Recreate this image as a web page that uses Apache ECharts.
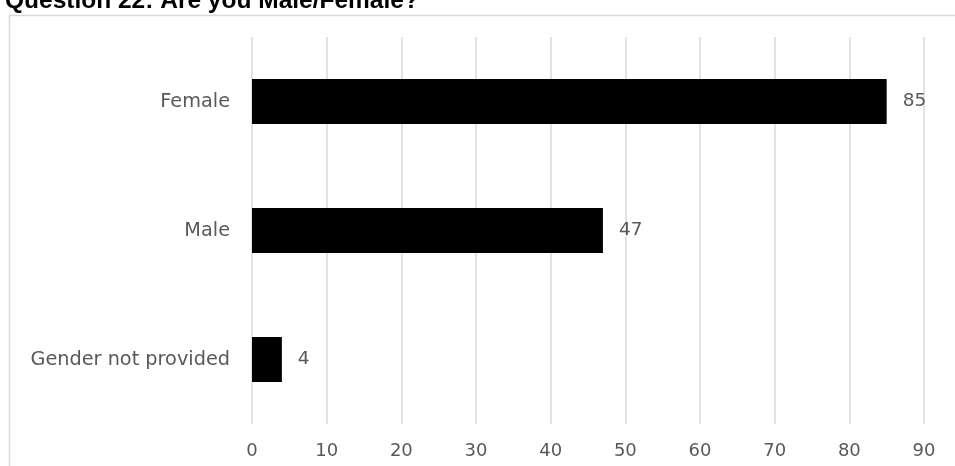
<!DOCTYPE html>
<html>
<head>
<meta charset="utf-8">
<style>
  html, body { margin: 0; padding: 0; background: #fff; }
  #chart { width: 955px; height: 466px; }
</style>
<script src="https://cdn.jsdelivr.net/npm/echarts@6/dist/echarts.min.js"></script>
</head>
<body>
<div id="chart"></div>
<script>
// Survey responses by gender
const titleText = 'Question 22: Are you Male/Female?';
const categories = ['Female', 'Male', 'Gender not provided'];
const counts = [85, 47, 4];
const axisMin = 0;
const axisMax = 90;
const axisStep = 10;

const chart = echarts.init(document.getElementById('chart'), null, { renderer: 'canvas' });

const labelFont = '"DejaVu Sans", Verdana, sans-serif';
const labelColor = '#595959';

chart.setOption({
  animation: false,
  backgroundColor: '#ffffff',
  title: {
    text: titleText,
    left: 5,
    top: -11,
    padding: 0,
    textStyle: {
      fontFamily: '"Liberation Sans", Arial, sans-serif',
      fontWeight: 'bold',
      fontSize: 24.5,
      color: '#000000'
    }
  },
  graphic: [{
    type: 'rect',
    silent: true,
    z: -1,
    shape: { x: 9.5, y: 15.5, width: 1000, height: 1000 },
    style: { fill: 'none', stroke: '#d9d9d9', lineWidth: 1.5 }
  }],
  grid: { left: 252, right: 31, top: 37, bottom: 42, containLabel: false },
  xAxis: {
    type: 'value',
    min: axisMin,
    max: axisMax,
    interval: axisStep,
    axisLine: { show: false },
    axisTick: { show: false },
    axisLabel: {
      margin: 18,
      fontFamily: labelFont,
      fontSize: 18,
      color: labelColor
    },
    splitLine: { show: true, lineStyle: { color: '#d9d9d9', width: 1.5 } }
  },
  yAxis: {
    type: 'category',
    data: categories,
    inverse: true,
    axisLine: { show: false },
    axisTick: { show: false },
    axisLabel: {
      margin: 22,
      fontFamily: labelFont,
      fontSize: 19.3,
      color: labelColor
    }
  },
  series: [{
    type: 'bar',
    data: counts,
    barWidth: 45,
    itemStyle: { color: '#000000' },
    label: {
      show: true,
      position: 'right',
      distance: 16,
      fontFamily: labelFont,
      fontSize: 18.5,
      color: labelColor
    }
  }]
});
</script>
</body>
</html>
